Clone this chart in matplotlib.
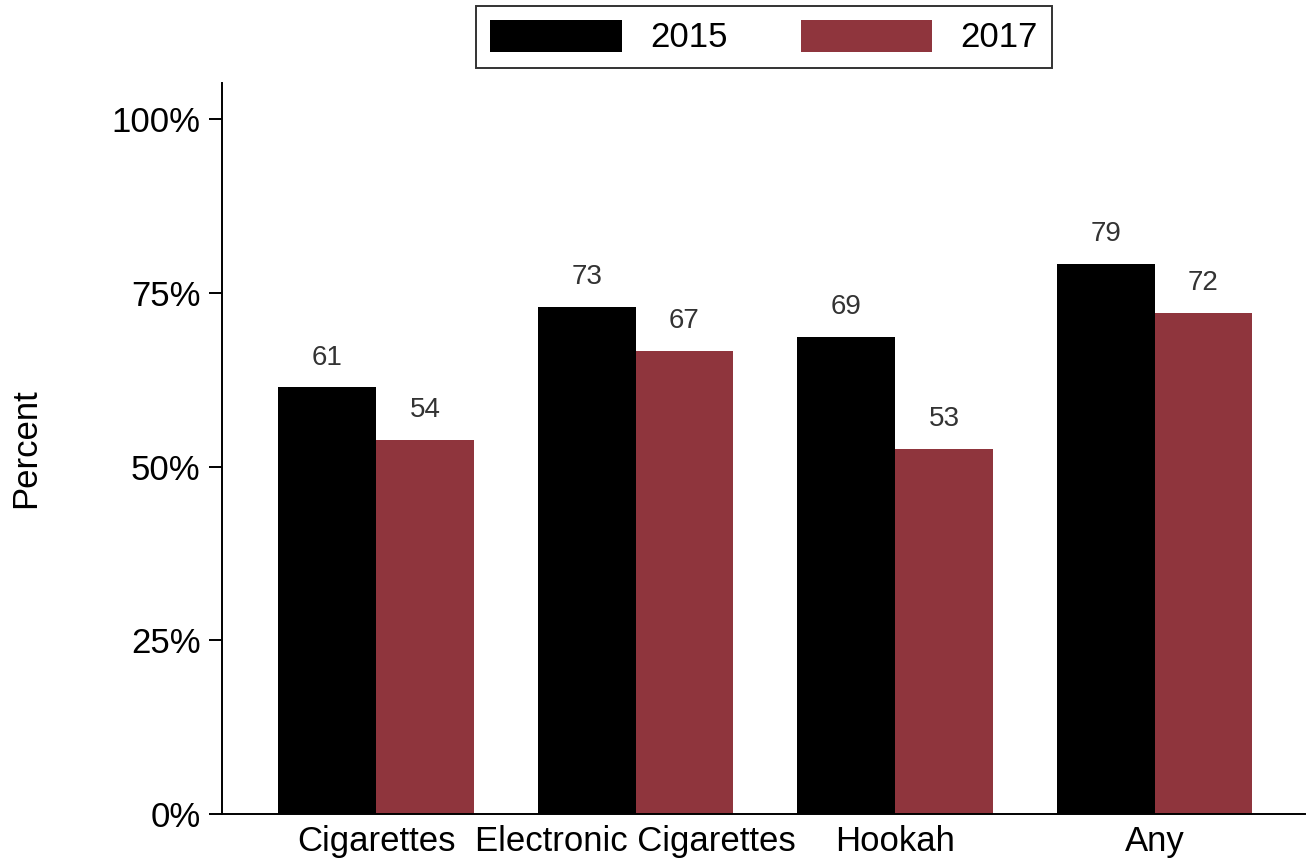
import matplotlib
matplotlib.use("Agg")
import matplotlib.pyplot as plt
import numpy as np

categories = ["Cigarettes", "Electronic Cigarettes", "Hookah", "Any"]
series_names = ["2015", "2017"]
values_2015 = [61.4, 73.0, 68.7, 79.2]
values_2017 = [53.8, 66.7, 52.6, 72.1]
labels_2015 = ["61", "73", "69", "79"]
labels_2017 = ["54", "67", "53", "72"]
yticks = [0, 25, 50, 75, 100]
ytick_labels = ["0%", "25%", "50%", "75%", "100%"]

colors = ["#000000", "#8F353D"]

plt.rcParams['font.family'] = ['Liberation Sans', 'DejaVu Sans']

fig = plt.figure(figsize=(13.1, 8.68), dpi=100)
ax = fig.add_axes([222/1310, 1-814/868, (1305-222)/1310, (814-83)/868])

x = np.arange(len(categories))
w = 0.377
b1 = ax.bar(x - w/2, values_2015, w, color=colors[0], label=series_names[0])
b2 = ax.bar(x + w/2, values_2017, w, color=colors[1], label=series_names[1])

for bars, labs in ((b1, labels_2015), (b2, labels_2017)):
    for rect, lab in zip(bars, labs):
        ax.annotate(lab, (rect.get_x() + rect.get_width()/2, rect.get_height()),
                    xytext=(0, 12), textcoords="offset points",
                    ha="center", va="bottom", fontsize=20, color="#333333")

ax.set_xlim(-0.594, 3.58)
ax.set_ylim(0, 105.2)
ax.set_xticks(x)
ax.set_xticklabels(categories, fontsize=25)
ax.set_yticks(yticks)
ax.set_yticklabels(ytick_labels, fontsize=25)
ax.tick_params(axis='x', length=0, pad=8)
ax.tick_params(axis='y', length=9.5, width=1.4, pad=6)
for s in ['top', 'right']:
    ax.spines[s].set_visible(False)
for s in ['left', 'bottom']:
    ax.spines[s].set_linewidth(1.4)
ax.set_ylabel("Percent", fontsize=25, labelpad=50)

leg = fig.legend(handles=[b1, b2], labels=series_names, ncol=2, loc='center',
                 bbox_to_anchor=(764/1310, 1-37/868), fontsize=25,
                 frameon=True, fancybox=False, edgecolor='black',
                 handlelength=3.8, handleheight=1.05, handletextpad=0.8,
                 columnspacing=2.1, borderpad=0.4)
leg.get_frame().set_linewidth(1.4)

fig.savefig("out.png", dpi=100)
